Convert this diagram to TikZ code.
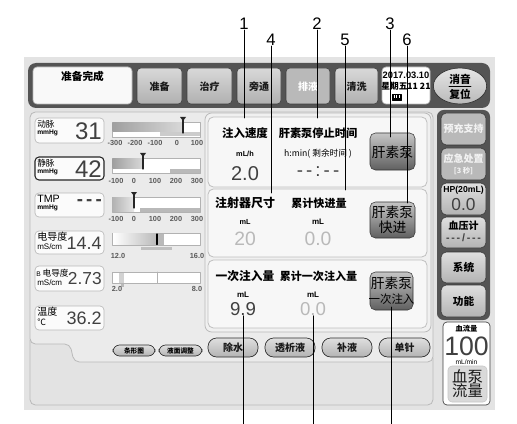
\documentclass[tikz,border=0pt]{standalone}
\usepackage{fontspec}
\setmainfont{Noto Sans CJK SC}
\newfontfamily\arialfont{Liberation Sans}
\usetikzlibrary{positioning}
\newcommand\uifs[1]{\fontsize{#1}{#1}\selectfont}
\definecolor{scrbg}{gray}{0.89}
\definecolor{barcol}{gray}{0.33}
\definecolor{panelbg}{gray}{0.92}
\definecolor{valcol}{gray}{0.25}

\begin{document}
\begin{tikzpicture}[x=0.75pt, y=-0.75pt, line join=round, line cap=round,
  every node/.style={inner sep=0pt, font=\uifs{8}},
  topbtn/.style={rounded corners=3pt, top color=gray!30, bottom color=gray!62, draw=gray!50!black, line width=0.4pt},
  sidebtn/.style={rounded corners=4pt, top color=gray!25, bottom color=gray!60, draw=gray!40!black, line width=0.4pt},
  offbtn/.style={rounded corners=4pt, fill=gray!55, draw=gray!40!black, line width=0.4pt},
  pumpbtn/.style={rounded corners=4pt, top color=gray!45, bottom color=gray!75!black, draw=gray!40!black, line width=0.4pt},
  pill/.style={rounded corners=6.5pt, top color=gray!25, bottom color=gray!60, draw=gray!35!black, line width=0.5pt},
  readbox/.style={rounded corners=3pt, fill=gray!3, draw=gray!55, line width=0.5pt},
  subpanel/.style={rounded corners=4pt, fill=gray!6, draw=gray!50, line width=0.6pt},
  panelline/.style={draw=gray!55, line width=0.6pt},
  scalebar/.style={fill=white, draw=gray!60, line width=0.4pt},
  scalenum/.style={font=\arialfont\uifs{5.5}\bfseries, text=gray!70!black},
  lead/.style={black, line width=0.6pt},
  callout/.style={font=\arialfont\uifs{12.5}}
]

\useasboundingbox (0,0) rectangle (517,424);
\fill[white] (0,0) rectangle (517,424);

% screen
\fill[scrbg] (24,57) rectangle (495,410);

% top bar
\fill[barcol, rounded corners=6pt] (28,63) rectangle (490,108);
\draw[readbox, fill=gray!5] (33,67) rectangle (132,104);
\node[font=\uifs{8}\bfseries] (ready) at (82.5,76) {准备完成};
\foreach \xa/\xb/\txt [count=\i] in {137/182/准备, 187/232/治疗, 237/281/旁通, 335/378/清洗}
{
  \draw[topbtn] (\xa,68) rectangle (\xb,104);
  \node[font=\uifs{7.5}\bfseries, text=gray!20!black] (tab\i) at ({(\xa+\xb)/2},87) {\txt};
}
\draw[rounded corners=3pt, fill=gray!55, draw=gray!50!black, line width=0.4pt] (286,68) rectangle (330,104);
\node[font=\uifs{7.5}\bfseries, text=white] (drain) at (308,87) {排液};

% date
\draw[readbox, fill=white] (382,67) rectangle (430,104);
\node[font=\arialfont\uifs{7}\bfseries] (date) at (406,75) {2017.03.10};
\node[font=\uifs{6.5}\bfseries] (week) at (406,86) {星期五11 21};
\draw[fill=black, line width=0.3pt] (392,94) rectangle (401,100);
\foreach \bx in {393.5,396,398.5}
  \fill[white] (\bx,95.5) rectangle ++(1.2,3);

% mute / reset
\draw[top color=gray!20, bottom color=gray!55, draw=gray!40!black, line width=0.5pt] (460,86) ellipse [x radius=20pt, y radius=13.5pt];
\node[font=\uifs{8}\bfseries] (mute) at (460,79) {消音};
\node[font=\uifs{8}\bfseries] (reset) at (460,94.5) {复位};
\draw[black, line width=0.5pt] (449,86.5) -- (471,86.5);

% main panel
\draw[panelline, fill=panelbg, rounded corners=4pt] (30,112) -- (433,112) -- (433,362) -- (74,362) -- (70,344) -- (30,344) -- cycle;
\draw[panelline, rounded corners=4pt] (30,340) -- (30,405) -- (433,405) -- (433,358);

% left readouts
\draw[readbox] (35,118) rectangle (104,143);
\node[anchor=west, font=\uifs{6.5}] (artl) at (37,124) {动脉};
\node[anchor=west, font=\arialfont\uifs{5}\bfseries] (artu) at (37,133) {mmHg};
\node[anchor=east, font=\arialfont\uifs{18}, text=valcol] (artv) at (102,131) {31};

\draw[readbox, draw=gray!30!black, line width=0.8pt] (35,157) rectangle (104,180);
\node[anchor=west, font=\uifs{6.5}] (venl) at (37,163) {静脉};
\node[anchor=west, font=\arialfont\uifs{5}\bfseries] (venu) at (37,172) {mmHg};
\node[anchor=east, font=\arialfont\uifs{18}, text=valcol] (venv) at (102,169) {42};

\draw[readbox] (35,193) rectangle (104,217);
\node[anchor=west, font=\arialfont\uifs{8}] (tmpl) at (37,199) {TMP};
\node[anchor=west, font=\arialfont\uifs{5}\bfseries] (tmpu) at (37,208) {mmHg};
\node[anchor=east, font=\arialfont\uifs{14}\bfseries, text=valcol] (tmpv) at (102,203) {-\,-\,-};

\draw[readbox] (35,231) rectangle (104,254);
\node[anchor=west, font=\uifs{7.5}] (conl) at (37,237) {电导度};
\node[anchor=west, font=\arialfont\uifs{6}] (conu) at (37,247) {mS/cm};
\node[anchor=east, font=\arialfont\uifs{13.5}, text=valcol] (conv) at (102,243) {14.4};

\draw[readbox] (35,266) rectangle (104,291);
\node[anchor=west, font=\uifs{6.5}] (bconl) at (36,273) {{\arialfont\uifs{5}B} 电导度};
\node[anchor=west, font=\arialfont\uifs{6}] (bconu) at (37,283) {mS/cm};
\node[anchor=east, font=\arialfont\uifs{13}, text=valcol] (bconv) at (102,279) {2.73};

\draw[readbox] (35,306) rectangle (104,330);
\node[anchor=west, font=\uifs{7.5}] (templ) at (37,312) {温度};
\node[anchor=west, font=\uifs{6.5}] (tempu) at (37,322) {℃};
\node[anchor=east, font=\arialfont\uifs{13.5}, text=valcol] (tempv) at (102,318) {36.2};

% bars
\draw[scalebar] (112,122) rectangle (200,137);
\shade[left color=gray!75, right color=gray!30] (112.5,122.5) rectangle (183,132);
\fill[gray!40] (160,132) rectangle (199.5,136.5);
\draw[gray!30!black, line width=0.8pt] (183,119) -- (183,133);
\fill[gray!30!black] (180,117) -- (186,117) -- (183,121) -- cycle;
\foreach \xs/\lab in {115/-300, 135/-200, 155/-100, 177/0, 197/100}
  \node[scalenum] (sa\lab) at (\xs,143) {\lab};

\draw[scalebar] (112,158) rectangle (200,173);
\shade[left color=gray!75, right color=gray!30] (112.5,158.5) rectangle (143,168);
\fill[gray!55] (170,169) rectangle (199.5,172.5);
\draw[gray!30!black, line width=0.8pt] (143,155) -- (143,169);
\fill[gray!30!black] (140,153) -- (146,153) -- (143,157) -- cycle;
\foreach \xs/\lab in {116/-100, 134/0, 155/100, 176/200, 197/300}
  \node[scalenum] (sb\lab) at (\xs,181) {\lab};

\draw[scalebar] (112,197) rectangle (200,212);
\shade[left color=gray!60, right color=gray!20] (112.5,197.5) rectangle (134,211.5);
\fill[gray!55] (140,208) rectangle (199.5,211.5);
\draw[gray!30!black, line width=0.8pt] (134,194) -- (134,208);
\fill[gray!30!black] (131,192) -- (137,192) -- (134,196) -- cycle;
\foreach \xs/\lab in {116/-100, 134/0, 155/100, 176/200, 197/300}
  \node[scalenum] (sc\lab) at (\xs,219) {\lab};

\draw[scalebar] (112,233) rectangle (200,245);
\shade[left color=white, right color=gray!55] (113,233.5) rectangle (157,244.5);
\draw[black, line width=0.8pt] (157,234) -- (157,244.5);
\fill[gray!55] (157.5,233.5) rectangle (164,244.5);
\fill[gray!50] (141,247) rectangle (172,250);
\node[scalenum] (sd1) at (118,256) {12.0};
\node[scalenum] (sd2) at (197,256) {16.0};

\draw[scalebar] (112,272) rectangle (200,283);
\fill[gray!35] (119,273) rectangle (124,282.5);
\fill[gray!55] (121,284) rectangle (124,287);
\draw[gray!60, line width=0.6pt] (157,272) -- (157,283);
\node[scalenum] (se1) at (117,289) {2.0};
\node[scalenum] (se2) at (197,289) {8.0};

% small buttons
\draw[pill, rounded corners=5pt] (113,345) rectangle (155,356);
\node[font=\uifs{5}\bfseries] (bargraph) at (134,350.5) {条形图};
\draw[pill, rounded corners=5pt] (159,345) rectangle (202,356);
\node[font=\uifs{5}\bfseries] (level) at (180.5,350.5) {液面调整};

% heparin panels
\draw[panelline, fill=gray!12, rounded corners=5pt] (205,113) rectangle (431,332);
\draw[subpanel] (208,117) rectangle (427,187);
\draw[subpanel] (208,189) rectangle (427,257);
\draw[subpanel] (208,260) rectangle (427,328);

\node[font=\uifs{8.6}\bfseries] (rate) at (245,133) {注入速度};
\node[font=\uifs{8.4}\bfseries] (stop) at (318,133) {肝素泵停止时间};
\node[font=\arialfont\uifs{5.5}\bfseries] (rateu) at (245,154) {mL/h};
\node[font=\uifs{6.5}] (stopu) at (318,154) {h:min( 剩余时间 )};
\node[font=\arialfont\uifs{15}, text=valcol] (ratev) at (245,174) {2.0};
\node[font=\arialfont\uifs{14}, text=valcol] (stopv) at (318,172) {-\,-\,:\,-\,-};
\draw[pumpbtn] (370,133) rectangle (415,170);
\node[font=\uifs{10.3}] (pump) at (392.5,152) {肝素泵};

\node[font=\uifs{9}\bfseries] (syr) at (245,203) {注射器尺寸};
\node[font=\uifs{8.3}\bfseries] (fast) at (319,203) {累计快进量};
\node[font=\arialfont\uifs{5.5}\bfseries] (syru) at (245,222) {mL};
\node[font=\arialfont\uifs{6}\bfseries] (fastu) at (318,222) {mL};
\node[font=\arialfont\uifs{14.5}, text=gray!55] (syrv) at (245,238.5) {20};
\node[font=\arialfont\uifs{14.5}, text=gray!55] (fastv) at (318,238.5) {0.0};
\draw[pumpbtn] (370,202) rectangle (415,238);
\node[font=\uifs{10.3}, align=center] (pumpfast) at (392.5,220) {肝素泵\\[1pt]快进};

\node[font=\uifs{8.8}\bfseries] (bolus) at (245,276) {一次注入量};
\node[font=\uifs{8.3}\bfseries] (bolussum) at (318.5,276) {累计一次注入量};
\node[font=\arialfont\uifs{6}\bfseries] (bolusu) at (243,295) {mL};
\node[font=\arialfont\uifs{6}\bfseries] (bolussumu) at (313,295) {mL};
\node[font=\arialfont\uifs{14}, text=valcol] (bolusv) at (243,309) {9.9};
\node[font=\arialfont\uifs{14}, text=gray!55] (bolussumv) at (313,309) {0.0};
\draw[pumpbtn] (370,272) rectangle (413,310);
\node[font=\uifs{10.3}, align=center] (pumpbolus) at (391.5,291) {肝素泵\\[1pt]{\uifs{8.6}一次注入}};

% bottom buttons
\foreach \xa/\xb/\txt [count=\i] in {208/258/除水, 265/315/透析液, 322/372/补液, 379/430/单针}
{
  \draw[pill] (\xa,338) rectangle (\xb,357);
  \node[font=\uifs{7.5}\bfseries, text=gray!20!black] (fluid\i) at ({(\xa+\xb)/2},347.5) {\txt};
}

% right column
\fill[barcol, rounded corners=5pt] (437,110) rectangle (490,320);
\draw[offbtn] (441,113) rectangle (486,145);
\node[font=\uifs{7.5}\bfseries, text=gray!10] (prime) at (463.5,129) {预充支持};
\draw[offbtn] (441,148) rectangle (486,180);
\node[font=\uifs{7.5}\bfseries, text=gray!10] (emerg) at (463.5,159) {应急处置};
\node[font=\uifs{5.5}\bfseries, text=gray!10] (emergs) at (463.5,171) {[3 秒]};
\draw[sidebtn] (441,183) rectangle (486,215);
\node[font=\arialfont\uifs{6.5}\bfseries] (hp) at (463.5,190) {HP(20mL)};
\node[font=\arialfont\uifs{13}, text=valcol] (hpv) at (463.5,205) {0.0};
\draw[sidebtn] (441,217) rectangle (486,248);
\node[font=\uifs{7.5}\bfseries] (bp) at (463.5,226) {血压计};
\node[font=\arialfont\uifs{8}\bfseries, text=valcol] (bpv) at (463.5,238) {-\,-\,-\,/\,-\,-\,-};
\draw[sidebtn] (441,252) rectangle (486,283);
\node[font=\uifs{8}\bfseries] (sys) at (463.5,267.5) {系统};
\draw[sidebtn] (441,285) rectangle (486,317);
\node[font=\uifs{8}\bfseries] (func) at (463.5,301) {功能};

% blood flow
\draw[readbox, fill=white, draw=gray!50!black] (443,322) rectangle (490,405);
\node[font=\uifs{5.5}\bfseries] (flowl) at (466.5,328.5) {血流量};
\node[font=\arialfont\uifs{20}, text=valcol] (flowv) at (466.5,346) {100};
\node[font=\arialfont\uifs{5}] (flowu) at (466.5,362.5) {mL/min};
\draw[rounded corners=3pt, fill=gray!30, draw=gray!45] (448,366) rectangle (487,402);
\node[font=\uifs{11.5}, align=center, text=gray!20!black] (bpump) at (467.5,384) {血泵\\[-1pt]流量};

% callouts
\node[callout] (n1) at (244,24) {1};
\node[callout] (n2) at (317,24) {2};
\node[callout] (n3) at (390,24) {3};
\node[callout] (n4) at (271,40) {4};
\node[callout] (n5) at (345,40) {5};
\node[callout] (n6) at (407,40) {6};
\coordinate (t1) at (244,118);
\coordinate (t2) at (317,118);
\coordinate (t3) at (390,137);
\coordinate (t4) at (271,193);
\coordinate (t5) at (345,190);
\coordinate (t6) at (407,203);
\foreach \i in {1,...,6}
  \draw[lead] (n\i.south) -- (t\i);

\coordinate (b7) at (243,424);
\coordinate (b8) at (313,424);
\coordinate (b9) at (391,424);
\draw[lead] (b7) -- (bolusv.south);
\draw[lead] (b8) -- (bolussumv.south);
\draw[lead] (b9) -- (391,307);

\end{tikzpicture}
\end{document}
